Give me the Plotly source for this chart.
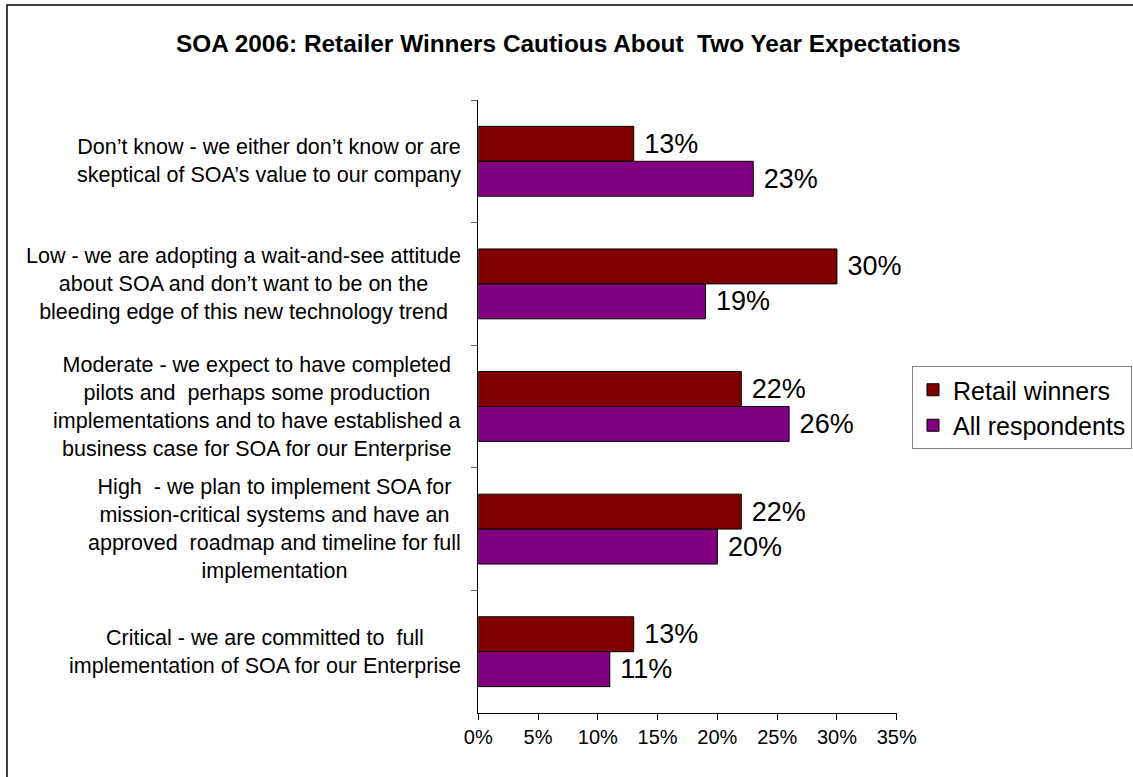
import plotly.graph_objects as go

# Survey answers, listed top to bottom
categories = ["Don't know", "Low", "Moderate", "High", "Critical"]
category_labels = [
    "Don’t know - we either don’t know or are<br>skeptical of SOA’s value to our company",
    "Low - we are adopting a wait-and-see attitude<br>about SOA and don’t want to be on the<br>bleeding edge of this new technology trend",
    "Moderate - we expect to have completed<br>pilots and  perhaps some production<br>implementations and to have established a<br>business case for SOA for our Enterprise",
    "High  - we plan to implement SOA for<br>mission-critical systems and have an<br>approved  roadmap and timeline for full<br>implementation",
    "Critical - we are committed to  full<br>implementation of SOA for our Enterprise",
]
retail_winners = [13, 30, 22, 22, 13]
all_respondents = [23, 19, 26, 20, 11]
x_ticks = [0, 5, 10, 15, 20, 25, 30, 35]
x_tick_labels = ["0%", "5%", "10%", "15%", "20%", "25%", "30%", "35%"]

W, H = 1133, 777
FONT = "Liberation Sans, Arial, sans-serif"


def px_x(p):
    return p / W


def px_y(p):
    return 1 - p / H


def pct_labels(values):
    return [f" {v}%" for v in values]


fig = go.Figure()
fig.add_trace(go.Bar(
    y=categories, x=retail_winners, orientation="h", name="Retail winners",
    marker=dict(color="#800000", line=dict(color="#000000", width=1)),
    text=pct_labels(retail_winners), textposition="outside", constraintext="none",
    textfont=dict(size=27, color="#000000", family=FONT), cliponaxis=False,
))
fig.add_trace(go.Bar(
    y=categories, x=all_respondents, orientation="h", name="All respondents",
    marker=dict(color="#800080", line=dict(color="#000000", width=1)),
    text=pct_labels(all_respondents), textposition="outside", constraintext="none",
    textfont=dict(size=27, color="#000000", family=FONT), cliponaxis=False,
))

# Category descriptions, centred line by line and right-aligned to the axis
annotations = [
    dict(x=px_x(463), xref="paper", y=cat, yref="y", text=lab,
         xanchor="right", yanchor="middle", align="center", showarrow=False,
         font=dict(size=21.5, color="#000000", family=FONT))
    for cat, lab in zip(categories, category_labels)
]
annotations.append(dict(
    x=px_x(568), xref="paper", y=px_y(43), yref="paper",
    text="<b>SOA 2006: Retailer Winners Cautious About  Two Year Expectations</b>",
    xanchor="center", yanchor="middle", showarrow=False,
    font=dict(size=24.4, color="#000000", family=FONT),
))

fig.update_layout(
    width=W, height=H,
    margin=dict(l=0, r=0, t=0, b=0),
    paper_bgcolor="#ffffff", plot_bgcolor="#ffffff",
    barmode="group", bargap=0.43, bargroupgap=0,
    font=dict(family=FONT, color="#000000"),
    showlegend=True,
    legend=dict(
        x=px_x(912), y=px_y(366), xanchor="left", yanchor="top",
        bgcolor="#ffffff", bordercolor="#808080", borderwidth=1,
        font=dict(size=25, color="#000000", family=FONT),
        traceorder="normal",
    ),
    xaxis=dict(
        domain=[px_x(478.3), px_x(896.7)], range=[0, 35],
        tickvals=x_ticks, ticktext=x_tick_labels,
        ticks="outside", ticklen=6, tickcolor="#000000",
        showline=True, linecolor="#000000", linewidth=1,
        showgrid=False, zeroline=False, automargin=False,
        tickfont=dict(size=20, color="#000000", family=FONT),
    ),
    yaxis=dict(
        domain=[px_y(713), px_y(100)],
        categoryorder="array", categoryarray=categories,
        autorange="reversed",
        showticklabels=False, ticks="outside", tickson="boundaries",
        ticklen=6, tickcolor="#666666",
        showline=True, linecolor="#000000", linewidth=1,
        showgrid=False, zeroline=False, automargin=False,
    ),
    annotations=annotations,
    shapes=[dict(
        type="rect", xref="paper", yref="paper",
        x0=px_x(7), x1=1.05, y0=-0.05, y1=px_y(5),
        line=dict(color="#000000", width=1.5), fillcolor="rgba(0,0,0,0)",
    )],
)

fig.write_html("out.html")
